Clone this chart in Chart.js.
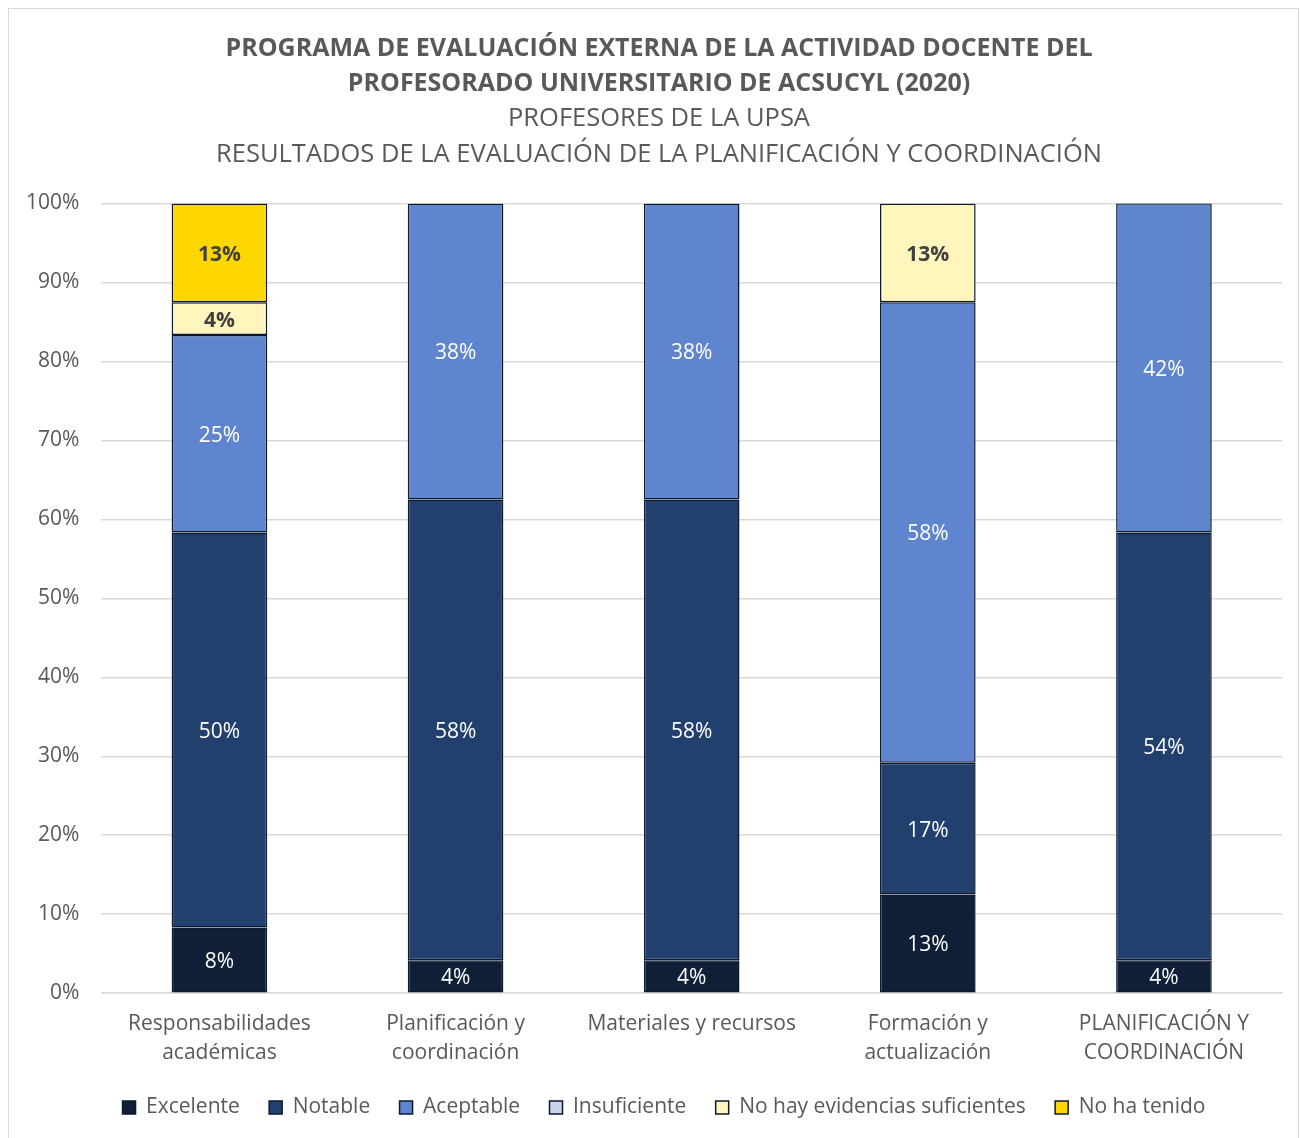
<!DOCTYPE html>
<html>
<head>
<meta charset="utf-8">
<script src="https://cdn.jsdelivr.net/npm/chart.js@4"></script>
<style>
  body { margin: 0; background: #fff; }
  #wrap { position: relative; width: 1300px; height: 1138px; }
</style>
</head>
<body>
<div id="wrap"><canvas id="chart" width="1300" height="1138"></canvas></div>
<script>
"use strict";

// categories (x axis)
var categories = [
    ["Responsabilidades", "académicas"],
    ["Planificación y", "coordinación"],
    "Materiales y recursos",
    ["Formación y", "actualización"],
    ["PLANIFICACIÓN Y", "COORDINACIÓN"]
];

// series values, in percent
var excelente = [8.33, 4.17, 4.17, 12.5, 4.17];
var notable = [50, 58.33, 58.33, 16.67, 54.17];
var aceptable = [25, 37.5, 37.5, 58.33, 41.67];
var insuficiente = [0, 0, 0, 0, 0];
var noHayEvidencias = [4.17, 0, 0, 12.5, 0];
var noHaTenido = [12.5, 0, 0, 0, 0];

var yTicks = [0, 10, 20, 30, 40, 50, 60, 70, 80, 90, 100];

var FONT = "'Open Sans', 'Noto Sans', sans-serif";
var GREY = "#595959";
var EDGE = "#0d1a2e";

function makeSet(label, data, color, labelColor, bold) {
    return {
        label: label,
        data: data,
        backgroundColor: color,
        borderColor: EDGE,
        borderWidth: 1.5,
        borderSkipped: false,
        barPercentage: 0.405,
        categoryPercentage: 1,
        labelColor: labelColor,
        labelBold: bold
    };
}

// white background + light frame
var framePlugin = {
    id: "frame",
    beforeDraw: function(chart) {
        var ctx = chart.ctx;
        ctx.save();
        ctx.fillStyle = "#ffffff";
        ctx.fillRect(0, 0, chart.width, chart.height);
        ctx.strokeStyle = "#d9d9d9";
        ctx.lineWidth = 1;
        ctx.strokeRect(8.5, 8.5, chart.width - 10, chart.height - 8);
        ctx.restore();
    }
};

// title and legend sit a bit right of the canvas centre in the original
var shiftPlugin = {
    id: "shiftBoxes",
    afterLayout: function(chart) {
        chart.boxes.forEach(function(box) {
            var dx = 0;
            if (box === chart.legend) dx = 21;
            else if (box.options && box.options.text && box.top < 200) dx = 16;
            if (dx) {
                box.left += dx;
                box.right += dx;
            }
        });
    }
};

// percent labels inside each segment
var labelPlugin = {
    id: "segLabels",
    afterDatasetsDraw: function(chart) {
        var ctx = chart.ctx;
        ctx.save();
        ctx.textAlign = "center";
        ctx.textBaseline = "middle";
        chart.data.datasets.forEach(function(ds, i) {
            var meta = chart.getDatasetMeta(i);
            meta.data.forEach(function(bar, j) {
                var v = ds.data[j];
                if (!v) return;
                ctx.fillStyle = ds.labelColor;
                ctx.font = (ds.labelBold ? "bold " : "") + "21px " + FONT;
                ctx.fillText(Math.round(v) + "%", bar.x, (bar.y + bar.base) / 2 + 2);
            });
        });
        ctx.restore();
    }
};

new Chart(document.getElementById("chart"), {
    type: "bar",
    data: {
        labels: categories,
        datasets: [
            makeSet("Excelente", excelente, "#0f1f38", "#ffffff", false),
            makeSet("Notable", notable, "#22406e", "#ffffff", false),
            makeSet("Aceptable", aceptable, "#5e85cd", "#ffffff", false),
            makeSet("Insuficiente", insuficiente, "#c9d5ee", "#404040", false),
            makeSet("No hay evidencias suficientes", noHayEvidencias, "#fff5bd", "#404040", true),
            makeSet("No ha tenido", noHaTenido, "#ffd700", "#404040", true)
        ]
    },
    plugins: [framePlugin, shiftPlugin, labelPlugin],
    options: {
        responsive: false,
        animation: false,
        layout: { padding: { left: 4, right: 18, top: 31, bottom: 10 } },
        plugins: {
            title: {
                display: true,
                text: ["PROGRAMA DE EVALUACIÓN EXTERNA DE LA ACTIVIDAD DOCENTE DEL", "PROFESORADO UNIVERSITARIO DE ACSUCYL (2020)"],
                color: GREY,
                font: { family: FONT, size: 25, weight: "bold", lineHeight: 1.4 },
                padding: { top: 0, bottom: 0 }
            },
            subtitle: {
                display: true,
                text: ["PROFESORES DE LA UPSA", "RESULTADOS DE LA EVALUACIÓN DE LA PLANIFICACIÓN Y COORDINACIÓN"],
                color: GREY,
                font: { family: FONT, size: 25.5, weight: "normal", lineHeight: 1.4 },
                padding: { top: 0, bottom: 31 }
            },
            legend: {
                position: "bottom",
                labels: {
                    color: GREY,
                    font: { family: FONT, size: 21 },
                    boxWidth: 13,
                    boxHeight: 13,
                    padding: 13,
                    useBorderRadius: false,
                    generateLabels: function(chart) {
                        var items = Chart.defaults.plugins.legend.labels.generateLabels(chart);
                        items.forEach(function(item, i) {
                            if (i < items.length - 1) item.text += "   ";
                        });
                        return items;
                    }
                }
            },
            tooltip: { enabled: false }
        },
        scales: {
            x: {
                stacked: true,
                grid: { display: false, drawTicks: false },
                border: { color: "#d9d9d9", width: 1.5 },
                ticks: {
                    color: GREY,
                    font: { family: FONT, size: 21, lineHeight: 1.4 },
                    padding: 16,
                    maxRotation: 0,
                    autoSkip: false
                }
            },
            y: {
                stacked: true,
                min: 0,
                max: 100,
                afterBuildTicks: function(axis) {
                    axis.ticks = yTicks.map(function(v) { return { value: v }; });
                },
                grid: { color: "#d9d9d9", lineWidth: 1.5, drawTicks: false },
                border: { display: false },
                ticks: {
                    color: GREY,
                    font: { family: FONT, size: 21 },
                    padding: 22,
                    callback: function(v) { return v + "%"; }
                }
            }
        }
    }
});
</script>
</body>
</html>
